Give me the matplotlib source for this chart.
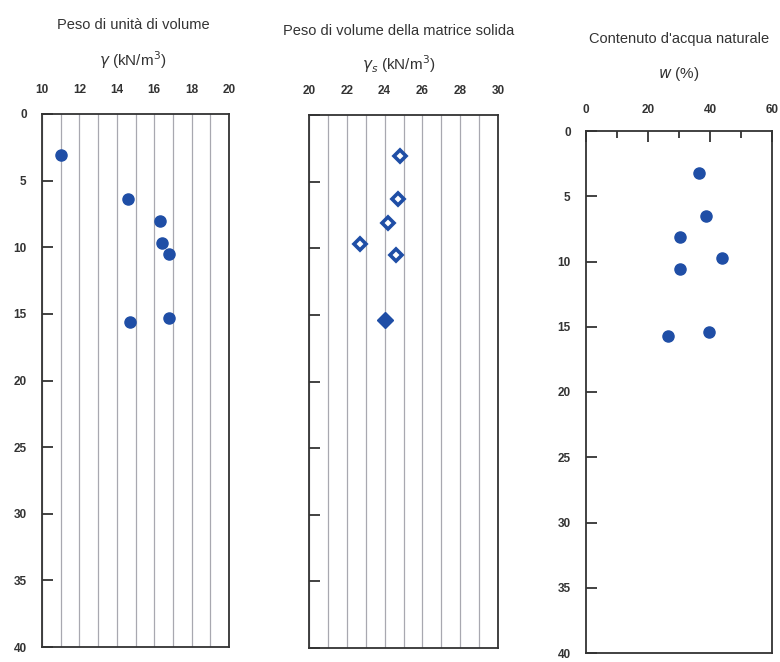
import matplotlib
matplotlib.use("Agg")
import matplotlib.pyplot as plt
from matplotlib.ticker import MultipleLocator

plt.rcParams['font.family'] = ['Liberation Sans', 'DejaVu Sans']

# Unit weight
depth_gamma = [3.1, 6.4, 8.0, 9.7, 10.5, 15.6, 15.3]
gamma = [11.0, 14.6, 16.3, 16.4, 16.8, 14.7, 16.8]

# Unit weight of solid particles
depth_gs = [3.1, 6.3, 8.1, 9.7, 10.5, 15.4]
gamma_s = [24.8, 24.7, 24.2, 22.7, 24.6, 24.0]
gs_solid = [False, False, False, False, False, True]

# Natural water content
depth_w = [3.2, 6.5, 8.1, 9.75, 10.55, 15.7, 15.4]
w = [36.5, 38.6, 30.3, 43.9, 30.2, 26.5, 39.7]

depth_ticks = [0, 5, 10, 15, 20, 25, 30, 35, 40]

BLUE = '#1f4ea6'
INK = '#333333'
GRID = '#a8a8b0'

fig = plt.figure(figsize=(7.8, 6.62), dpi=100)
W, H = 780, 662


def box(l, t, r, b):
    return [l / W, 1 - b / H, (r - l) / W, (b - t) / H]


ax1 = fig.add_axes(box(42, 114, 229, 647))
ax2 = fig.add_axes(box(309, 115, 498, 648))
ax3 = fig.add_axes(box(586, 131, 772, 653))

TICK_FS = 8.5


def style(ax, xlim, xmajor, ylabels, grid_step=None, xminor=None):
    ax.set_xlim(*xlim)
    ax.set_ylim(40, 0)
    for s in ax.spines.values():
        s.set_color(INK)
        s.set_linewidth(1.3)
    ax.xaxis.tick_top()
    ax.xaxis.set_major_locator(MultipleLocator(xmajor))
    ax.set_yticks(depth_ticks)
    ax.tick_params(axis='y', direction='in', length=8, width=1.3, color=INK,
                   pad=11, labelsize=TICK_FS, labelcolor=INK)
    if not ylabels:
        ax.tick_params(axis='y', labelleft=False)
    if grid_step is not None:
        ax.xaxis.set_minor_locator(MultipleLocator(grid_step))
        ax.tick_params(axis='x', which='both', length=0, pad=13,
                       labelsize=TICK_FS, labelcolor=INK)
        ax.grid(True, axis='x', which='both', color=GRID, linewidth=0.9)
        ax.set_axisbelow(True)
    else:
        ax.xaxis.set_minor_locator(MultipleLocator(xminor))
        ax.tick_params(axis='x', which='major', direction='in', length=8,
                       width=1.3, color=INK, pad=11, labelsize=TICK_FS,
                       labelcolor=INK)
        ax.tick_params(axis='x', which='minor', direction='in', length=5,
                       width=1.3, color=INK)
    for lab in ax.get_yticklabels() + ax.get_xticklabels():
        lab.set_fontweight('bold')


style(ax1, (10, 20), 2, True, grid_step=1)
style(ax2, (20, 30), 2, False, grid_step=1)
style(ax3, (0, 60), 20, True, xminor=10)

ax1.plot(gamma, depth_gamma, 'o', color=BLUE, ms=8, zorder=3)

for x, y, solid in zip(gamma_s, depth_gs, gs_solid):
    if solid:
        ax2.plot(x, y, 'D', color=BLUE, ms=8, zorder=3)
    else:
        ax2.plot(x, y, 'D', mfc='white', mec=BLUE, mew=2.6, ms=6.5, zorder=3)

ax3.plot(w, depth_w, 'o', color=BLUE, ms=8, zorder=3)

# Panel headings
head_kw = dict(ha='center', va='center', color=INK, fontsize=10.5)
unit_kw = dict(ha='center', va='center', color=INK, fontsize=11)
fig.text(133 / W, 1 - 25 / H, 'Peso di unità di volume', **head_kw)
fig.text(133 / W, 1 - 60 / H, r'$\gamma$ (kN/m$^3$)', **unit_kw)
fig.text(399 / W, 1 - 31 / H, 'Peso di volume della matrice solida', **head_kw)
fig.text(399 / W, 1 - 64 / H, r'$\gamma_s$ (kN/m$^3$)', **unit_kw)
fig.text(679 / W, 1 - 39 / H, "Contenuto d'acqua naturale", **head_kw)
fig.text(679 / W, 1 - 74 / H, r'$w$ (%)', **unit_kw)

fig.savefig('out.png', dpi=100)
